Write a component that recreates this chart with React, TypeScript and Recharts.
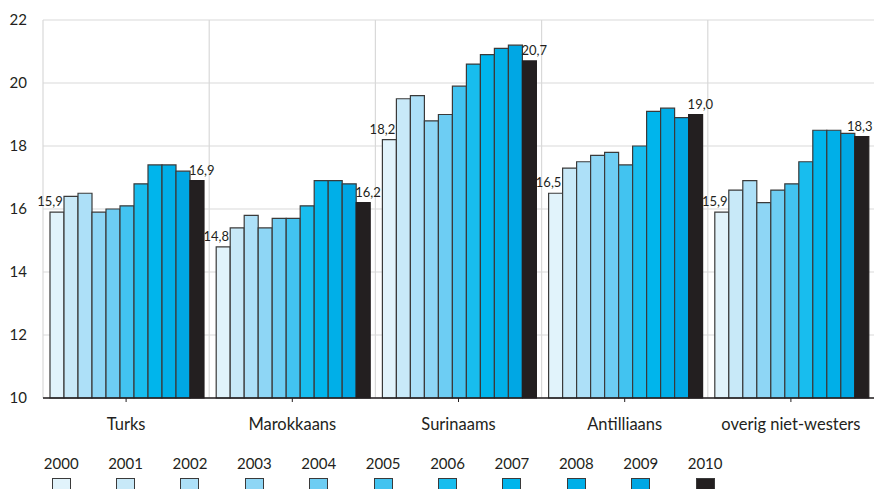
import { Bar, BarChart, CartesianGrid, LabelList, Legend, XAxis, YAxis } from "recharts";

const groups = ["Turks", "Marokkaans", "Surinaams", "Antilliaans", "overig niet-westers"];
const years = ["2000", "2001", "2002", "2003", "2004", "2005", "2006", "2007", "2008", "2009", "2010"];

const y2000 = [15.9, 14.8, 18.2, 16.5, 15.9];
const y2001 = [16.4, 15.4, 19.5, 17.3, 16.6];
const y2002 = [16.5, 15.8, 19.6, 17.5, 16.9];
const y2003 = [15.9, 15.4, 18.8, 17.7, 16.2];
const y2004 = [16.0, 15.7, 19.0, 17.8, 16.6];
const y2005 = [16.1, 15.7, 19.9, 17.4, 16.8];
const y2006 = [16.8, 16.1, 20.6, 18.0, 17.5];
const y2007 = [17.4, 16.9, 20.9, 19.1, 18.5];
const y2008 = [17.4, 16.9, 21.1, 19.2, 18.5];
const y2009 = [17.2, 16.8, 21.2, 18.9, 18.4];
const y2010 = [16.9, 16.2, 20.7, 19.0, 18.3];

const yTicks = [10, 12, 14, 16, 18, 20, 22];

const series = [y2000, y2001, y2002, y2003, y2004, y2005, y2006, y2007, y2008, y2009, y2010];
const colors = [
  "#e1f3fb", "#c8e9f8", "#ade0f8", "#8ed6f5", "#6dcdf3", "#42c3f0",
  "#18bdee", "#00b5ec", "#00afe8", "#00a7e4", "#231f20",
];

const data = groups.map((name, i) => {
  const row: Record<string, string | number> = { name };
  years.forEach((y, j) => {
    row[y] = series[j][i];
  });
  return row;
});

const font = "Lato, 'Open Sans', sans-serif";
const ink = "#231f20";
const fmt = (v: number) => v.toFixed(1).replace(".", ",");

const firstLabel = (p: any) => (
  <text x={p.x} y={p.y - 6} textAnchor="middle" fontSize={13} fill={ink} fontFamily={font}>
    {fmt(Number(p.value))}
  </text>
);

// keep the last label inside the picture at the right edge
const lastLabel = (p: any) => (
  <text
    x={Math.min(p.x - 1, 874 - 27)}
    y={p.y - 6}
    textAnchor="start"
    fontSize={13}
    fill={ink}
    fontFamily={font}
  >
    {fmt(Number(p.value))}
  </text>
);

const legendContent = () => (
  <div style={{ display: "flex", paddingLeft: 29, fontFamily: font, color: ink }}>
    {years.map((y, j) => (
      <div key={y} style={{ width: 64.4, display: "flex", flexDirection: "column", alignItems: "center" }}>
        <span style={{ fontSize: 15, lineHeight: "18px" }}>{y}</span>
        <span
          style={{
            marginTop: 6,
            width: 17,
            height: 17,
            background: colors[j],
            border: "1.3px solid #3a3a3a",
          }}
        />
      </div>
    ))}
  </div>
);

export default function App() {
  return (
    <div style={{ position: "absolute", left: 0, top: 0, background: "#fff" }}>
      <BarChart
        width={874}
        height={489}
        data={data}
        margin={{ top: 20, right: 0, left: 0, bottom: 51 }}
        barCategoryGap={7}
        barGap={0}
      >
        <CartesianGrid
          stroke="#d9d9d9"
          strokeWidth={1.2}
          verticalCoordinatesGenerator={({ offset }: any) =>
            groups.map((_, i) => offset.left + (i * offset.width) / groups.length)
          }
        />
        <XAxis
          dataKey="name"
          height={40}
          axisLine={{ stroke: ink, strokeWidth: 1.3 }}
          tickLine={{ stroke: ink }}
          tickSize={4}
          tickMargin={16}
          tick={{ fill: ink, fontSize: 16.5, fontFamily: font }}
          interval={0}
        />
        <YAxis
          width={43}
          domain={[10, 22]}
          ticks={yTicks}
          axisLine={false}
          tickLine={false}
          tickSize={0}
          tickMargin={16}
          tick={{ fill: ink, fontSize: 15, fontFamily: font }}
        />
        <Legend
          layout="horizontal"
          verticalAlign="middle"
          align="center"
          content={legendContent}
          wrapperStyle={{ top: 454, left: 0, width: 874 }}
        />
        {years.map((y, j) => (
          <Bar
            key={y}
            dataKey={y}
            fill={colors[j]}
            stroke={j === years.length - 1 ? ink : "#3a3a3a"}
            strokeWidth={1.2}
            isAnimationActive={false}
          >
            {j === 0 && <LabelList dataKey={y} content={firstLabel} />}
            {j === years.length - 1 && <LabelList dataKey={y} content={lastLabel} />}
          </Bar>
        ))}
      </BarChart>
    </div>
  );
}
